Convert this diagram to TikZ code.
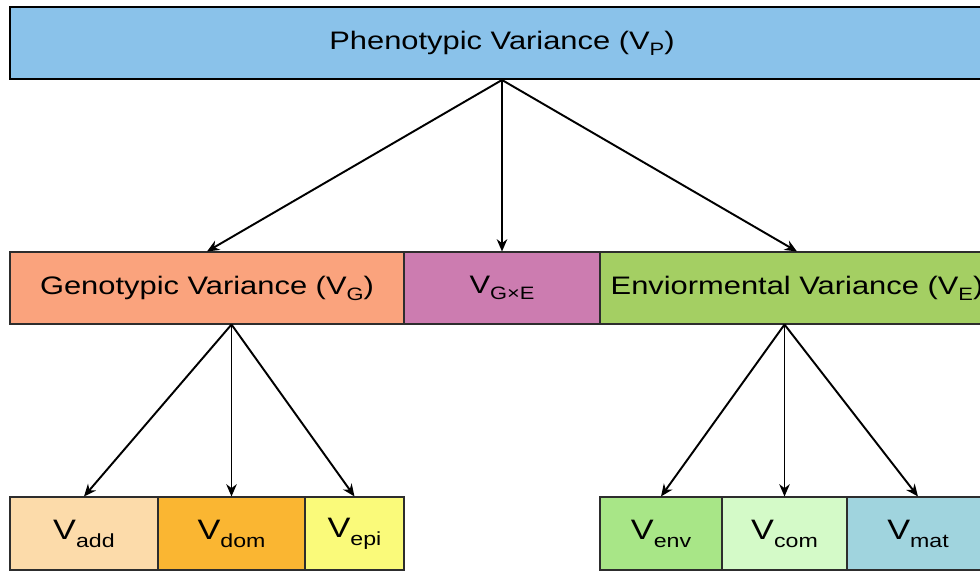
\documentclass[tikz,border=0pt]{standalone}
\usepackage{fontspec}
\setmainfont{Liberation Sans}[FakeStretch=1.22]
\usepackage{xcolor}
\usepackage{tikz}
\usetikzlibrary{arrows.meta, positioning, calc}
\definecolor{mydark}{RGB}{45,45,45}
\definecolor{hdrblue}{RGB}{138,194,234}
\definecolor{hdrsalmon}{RGB}{250,163,125}
\definecolor{hdrmauve}{RGB}{204,124,176}
\definecolor{hdrlime}{RGB}{164,207,99}
\definecolor{leafpeach}{RGB}{252,219,170}
\definecolor{leaforange}{RGB}{250,182,50}
\definecolor{leafyellow}{RGB}{250,250,122}
\definecolor{leafgreen}{RGB}{168,230,135}
\definecolor{leafmint}{RGB}{212,250,200}
\definecolor{leafcyan}{RGB}{160,212,222}
\newcommand{\vsub}[1]{\raisebox{-0.45ex}{\fontsize{10.2}{10}\selectfont #1}}
\newcommand{\leafsub}[1]{\raisebox{-0.55ex}{\fontsize{10.8}{12}\selectfont #1}}
\tikzset{
  varbox/.style={rectangle, draw=mydark, line width=0.6pt,
    minimum height=1.44cm, inner sep=0pt,
    font=\fontsize{14.4}{16}\selectfont},
  leafbox/.style={varbox, minimum height=1.46cm,
    font=\fontsize{16}{18}\selectfont},
  arrow/.style={-{Stealth[length=7pt, width=6pt]}, line width=1.1pt, color=black}
}

\begin{document}
\begin{tikzpicture}
  \useasboundingbox (0,0) rectangle (19.6,-11.42);

  % Phenotypic variance
  \node[varbox, fill=hdrblue, draw=black, line width=1.1pt, minimum width=19.68cm] (vp) at (10.04,-0.86) {Phenotypic Variance (V\vsub{P})};

  % Second level
  \node[varbox, fill=hdrsalmon, minimum width=7.88cm] (vg) at (4.14,-5.76) {Genotypic Variance (V\vsub{G})};
  \node[varbox, fill=hdrmauve, minimum width=3.92cm] (vgxe) at (10.04,-5.76) {V\vsub{G×E}};
  \node[varbox, fill=hdrlime, minimum width=7.88cm] (ve) at (15.94,-5.76) {Enviormental Variance (V\vsub{E})};

  % Genotypic components
  \node[leafbox, fill=leafpeach, minimum width=2.96cm] (vadd) at (1.68,-10.67) {V\leafsub{add}};
  \node[leafbox, fill=leaforange, minimum width=2.94cm] (vdom) at (4.63,-10.67) {V\leafsub{dom}};
  \node[leafbox, fill=leafyellow, minimum width=1.98cm] (vepi) at (7.09,-10.67) {V\leafsub{epi}};

  % Environmental components
  \node[leafbox, fill=leafgreen, minimum width=2.44cm] (venv) at (13.22,-10.67) {V\leafsub{env}};
  \node[leafbox, fill=leafmint, minimum width=2.5cm] (vcom) at (15.69,-10.67) {V\leafsub{com}};
  \node[leafbox, fill=leafcyan, minimum width=2.84cm] (vmat) at (18.36,-10.67) {V\leafsub{mat}};

  % Arrows
  \draw[arrow] (vp.south) -- (vg.north);
  \draw[arrow] (vp.south) -- (vgxe.north);
  \draw[arrow] (vp.south) -- (ve.north);

  \coordinate (gsplit) at (vg.south -| vdom.north);
  \draw[arrow] (gsplit) -- (vadd.north);
  \draw[arrow] (gsplit) -- (vdom.north);
  \draw[arrow] (gsplit) -- (vepi.north);

  \coordinate (esplit) at (ve.south -| vcom.north);
  \draw[arrow] (esplit) -- (venv.north);
  \draw[arrow] (esplit) -- (vcom.north);
  \draw[arrow] (esplit) -- (vmat.north);
\end{tikzpicture}
\end{document}
